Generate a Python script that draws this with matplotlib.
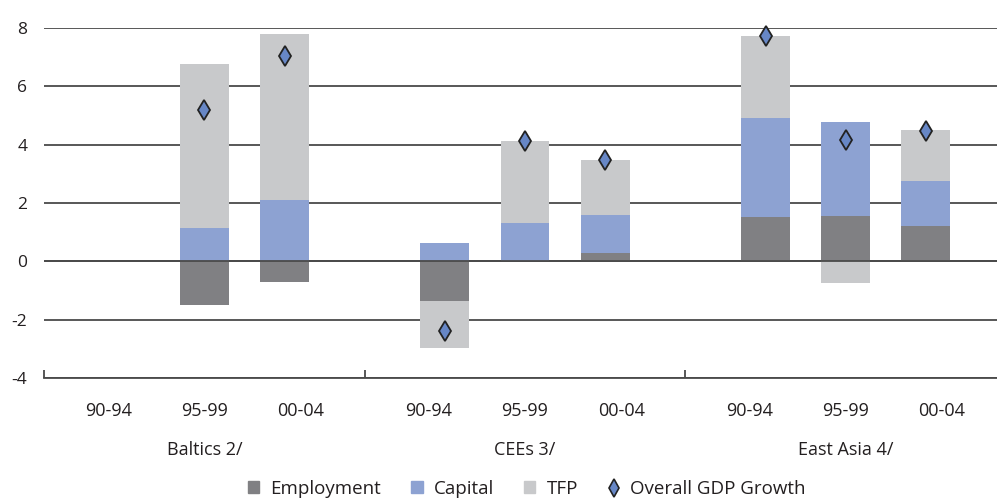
import numpy as np
import matplotlib
matplotlib.use('Agg')
import matplotlib.pyplot as plt
from matplotlib.lines import Line2D
from matplotlib.patches import Patch
from matplotlib.transforms import blended_transform_factory

plt.rcParams['font.family'] = ['Open Sans', 'DejaVu Sans']

groups = ['Baltics 2/', 'CEEs 3/', 'East Asia 4/']
periods = ['90-94', '95-99', '00-04']

# one value per group/period, Baltics 90-94 has no data
employment = [np.nan, -1.50, -0.71, -1.37, 0.00, 0.27, 1.51, 1.54, 1.20]
capital = [np.nan, 1.16, 2.12, 0.62, 1.30, 1.31, 3.39, 3.25, 1.57]
tfp = [np.nan, 5.62, 5.69, -1.61, 2.84, 1.91, 2.84, -0.75, 1.72]
gdp = [np.nan, 5.20, 7.03, -2.40, 4.14, 3.46, 7.72, 4.17, 4.48]

c_emp = '#808083'
c_cap = '#8da2d2'
c_tfp = '#c8c9cb'
c_grid = '#4a4a4a'

fig = plt.figure(figsize=(9.97, 4.99), dpi=100)
ax = fig.add_axes([44 / 997, 121 / 499, 962 / 997, 350 / 499])

x = np.array([g * 4 + i + 1 for g in range(len(groups)) for i in range(len(periods))])
w = 0.61

pos = np.zeros(len(x))
neg = np.zeros(len(x))
for vals, col in [(employment, c_emp), (capital, c_cap), (tfp, c_tfp)]:
    v = np.array(vals, dtype=float)
    ok = ~np.isnan(v)
    base = np.where(v >= 0, pos, neg)
    ax.bar(x[ok], v[ok], bottom=base[ok], width=w, color=col, zorder=2)
    vv = np.nan_to_num(v)
    pos = pos + np.where(vv > 0, vv, 0)
    neg = neg + np.where(vv < 0, vv, 0)

ax.plot(x, gdp, ls='none', marker='d', ms=10, mfc='#6787c6', mec='#222222',
        mew=1.3, zorder=4, clip_on=False)

ax.set_xlim(0, 12)
ax.set_ylim(-4, 8)
ax.set_yticks(range(-4, 9, 2))
ax.set_yticklabels([str(t) for t in range(-4, 9, 2)], fontsize=12.5, color='#231f20')
ax.tick_params(axis='y', length=0, pad=12)
ax.yaxis.grid(True, color=c_grid, lw=1.3, zorder=0)
ax.axhline(0, color=c_grid, lw=1.3, zorder=3)
ax.set_axisbelow(True)
for s in ['top', 'right', 'left']:
    ax.spines[s].set_visible(False)
ax.spines['bottom'].set_color(c_grid)
ax.spines['bottom'].set_linewidth(1.3)

ax.set_xticks([])
ax.set_xticks([0, 4, 8], minor=True)
ax.tick_params(axis='x', which='minor', direction='in', length=6, width=1.3, color=c_grid)

tr = blended_transform_factory(ax.transData, ax.transAxes)
for g, name in enumerate(groups):
    for i, p in enumerate(periods):
        ax.text(g * 4 + 2 + (i - 1) * 1.2, -0.093, p, transform=tr, ha='center',
                va='center', fontsize=13, color='#231f20')
    ax.text(g * 4 + 2, -0.205, name, transform=tr, ha='center', va='center',
            fontsize=13, color='#231f20')

handles = [Patch(color=c_emp), Patch(color=c_cap), Patch(color=c_tfp),
           Line2D([], [], ls='none', marker='d', ms=9, mfc='#6787c6', mec='#222222', mew=1.2)]
labels = ['Employment', 'Capital', 'TFP', 'Overall GDP Growth']
fig.legend(handles, labels, loc='center', bbox_to_anchor=(527 / 997, 10 / 499), ncol=4,
           frameon=False, fontsize=13.5, handlelength=0.6, handleheight=0.6,
           handletextpad=0.6, columnspacing=1.6, labelcolor='#231f20')

fig.savefig('out.png', dpi=100)
